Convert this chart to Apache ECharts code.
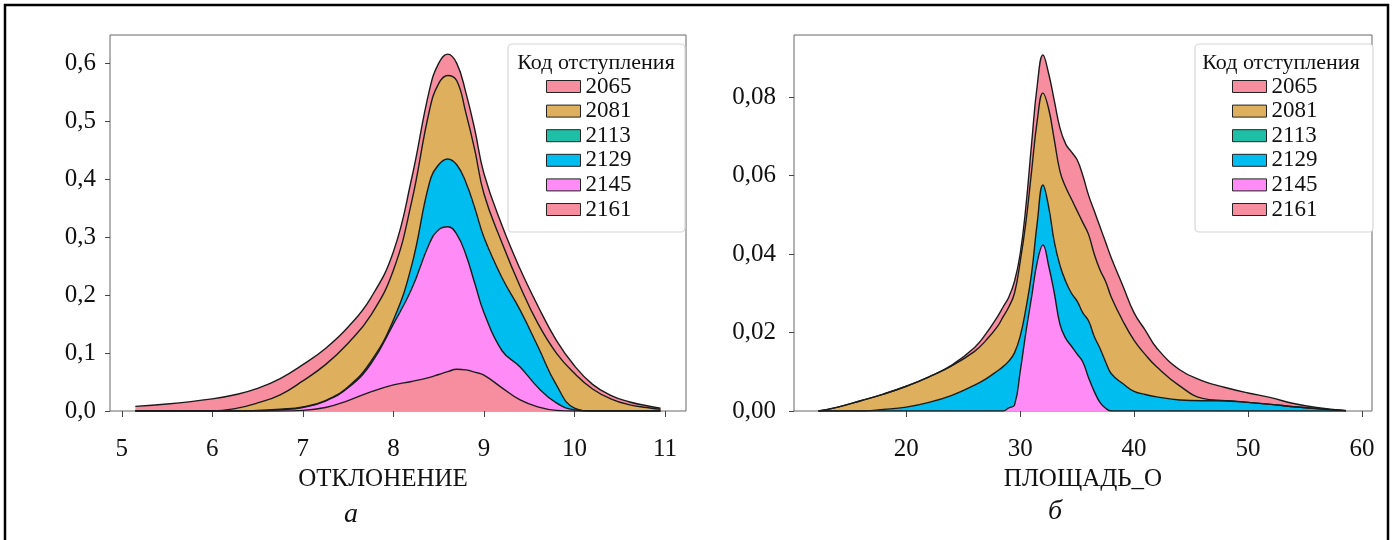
<!DOCTYPE html>
<html lang="ru">
<head>
  <meta charset="UTF-8">
  <title>KDE stack</title>
  <style>
    html, body { margin: 0; padding: 0; background: #fff; }
    #chart { width: 1392px; height: 540px; }
  </style>
</head>
<body>
  <div id="chart"></div>

  <script src="https://cdn.jsdelivr.net/npm/echarts@6/dist/echarts.min.js"></script>
  <script>
    // --- data: panel a (ОТКЛОНЕНИЕ) ---
    var xA = [5.15, 5.5, 6.0, 6.25, 6.5, 6.75, 7.0, 7.25, 7.5, 7.75, 8.0, 8.2, 8.4, 8.5, 8.6, 8.7, 8.8, 8.9, 9.0, 9.2, 9.4, 9.6, 9.8, 10.0, 10.2, 10.4, 10.6, 10.8, 10.95];
    var a2161 = [0, 0, 0, 0, 0, 0, 0.001, 0.006, 0.018, 0.033, 0.045, 0.051, 0.058, 0.063, 0.068, 0.072, 0.071, 0.067, 0.062, 0.040, 0.019, 0.007, 0.001, 0, 0, 0, 0, 0, 0];
    var a2145 = [0, 0, 0, 0, 0, 0.002, 0.005, 0.011, 0.022, 0.048, 0.105, 0.159, 0.232, 0.250, 0.250, 0.233, 0.199, 0.153, 0.108, 0.064, 0.057, 0.033, 0.013, 0.002, 0, 0, 0, 0, 0];
    var a2129 = [0, 0, 0, 0, 0.001, 0.001, 0.001, 0.001, 0.002, 0.004, 0.007, 0.040, 0.105, 0.112, 0.117, 0.120, 0.125, 0.130, 0.130, 0.126, 0.098, 0.070, 0.031, 0.003, 0, 0, 0, 0, 0];
    var a2113 = [0, 0, 0, 0, 0, 0, 0, 0, 0, 0, 0, 0, 0, 0, 0, 0, 0, 0, 0, 0, 0, 0, 0, 0, 0, 0, 0, 0, 0];
    var a2081 = [0, 0, 0, 0.004, 0.013, 0.025, 0.045, 0.062, 0.075, 0.080, 0.086, 0.110, 0.125, 0.140, 0.144, 0.145, 0.120, 0.100, 0.075, 0.060, 0.041, 0.040, 0.055, 0.060, 0.038, 0.021, 0.011, 0.006, 0.003];
    var a2065 = [0.008, 0.012, 0.021, 0.024, 0.025, 0.028, 0.028, 0.028, 0.028, 0.030, 0.032, 0.040, 0.035, 0.035, 0.037, 0.030, 0.035, 0.035, 0.035, 0.030, 0.030, 0.030, 0.022, 0.013, 0.008, 0.006, 0.005, 0.003, 0.002];

    // --- data: panel б (ПЛОЩАДЬ_О) ---
    var xB = [12.3, 14, 16, 18, 20, 22, 24, 26, 27, 28, 28.5, 29, 29.5, 30, 30.5, 31, 31.5, 32, 32.5, 33, 33.5, 34, 34.5, 35, 35.5, 36, 36.5, 37, 37.5, 38, 39, 40, 41, 42, 44, 46, 48, 50, 52, 54, 56, 58.6];
    var b2161 = [0, 0, 0, 0, 0, 0, 0, 0, 0, 0, 0, 0, 0, 0, 0, 0, 0, 0, 0, 0, 0, 0, 0, 0, 0, 0, 0, 0, 0, 0, 0, 0, 0, 0, 0, 0, 0, 0, 0, 0, 0, 0];
    var b2145 = [0, 0, 0, 0, 0, 0, 0, 0, 0, 0, 0, 0.0008, 0.0015, 0.010, 0.020, 0.029, 0.038, 0.0423, 0.037, 0.030, 0.022, 0.0185, 0.0165, 0.0145, 0.0125, 0.0085, 0.005, 0.0022, 0.0007, 0, 0, 0, 0, 0, 0, 0, 0, 0, 0, 0, 0, 0];
    var b2129 = [0, 0, 0, 0.0004, 0.001, 0.0022, 0.004, 0.0066, 0.0082, 0.0102, 0.0113, 0.0119, 0.0133, 0.009, 0.006, 0.006, 0.010, 0.0153, 0.015, 0.013, 0.015, 0.0145, 0.0135, 0.0135, 0.0125, 0.0145, 0.014, 0.0138, 0.0118, 0.0095, 0.007, 0.005, 0.0042, 0.0036, 0.0028, 0.0026, 0.0026, 0.0022, 0.0017, 0.0011, 0.0006, 0.0001];
    var b2113 = [0, 0, 0, 0, 0, 0, 0, 0, 0, 0, 0, 0, 0, 0, 0, 0, 0, 0, 0, 0, 0, 0, 0, 0, 0, 0, 0, 0, 0, 0, 0, 0, 0, 0, 0, 0, 0, 0, 0, 0, 0, 0];
    var b2081 = [0, 0.001, 0.0026, 0.0039, 0.0053, 0.0065, 0.0075, 0.0086, 0.0098, 0.0113, 0.0127, 0.0138, 0.0152, 0.019, 0.022, 0.026, 0.026, 0.0234, 0.025, 0.026, 0.024, 0.024, 0.024, 0.023, 0.023, 0.022, 0.021, 0.020, 0.0205, 0.0195, 0.016, 0.013, 0.0101, 0.0076, 0.0036, 0.0006, 0, 0, 0, 0, 0, 0];
    var b2065 = [0, 0, 0, 0, 0, 0, 0.0002, 0.001, 0.0017, 0.0025, 0.0025, 0.0025, 0.003, 0.002, 0.004, 0.007, 0.009, 0.0097, 0.009, 0.010, 0.011, 0.011, 0.012, 0.013, 0.012, 0.010, 0.011, 0.011, 0.010, 0.010, 0.009, 0.007, 0.0062, 0.0048, 0.0041, 0.0045, 0.0034, 0.0024, 0.0017, 0.0008, 0.0003, 0];

    // legend order and tick labels
    var codes = ['2065', '2081', '2113', '2129', '2145', '2161'];
    var ticksXA = [5, 6, 7, 8, 9, 10, 11];
    var ticksYA = [0, 0.1, 0.2, 0.3, 0.4, 0.5, 0.6];
    var ticksXB = [20, 30, 40, 50, 60];
    var ticksYB = [0, 0.02, 0.04, 0.06, 0.08];

    var colorOf = {
      '2065': '#f68ea0',
      '2081': '#deb05e',
      '2113': '#1dbfa6',
      '2129': '#00bdef',
      '2145': '#ff8cf6',
      '2161': '#f68ea0'
    };

    var serif = 'Liberation Serif';

    // density goes first so that it is the stacked dimension, x is read through encode
    function pairs(xs, ys) {
      return xs.map(function (x, i) { return [ys[i], x]; });
    }

    function makeSeries(name, xs, ys, idx, stack) {
      var empty = ys.every(function (v) { return v === 0; });
      return {
        name: name,
        type: 'line',
        xAxisIndex: idx,
        yAxisIndex: idx,
        stack: stack,
        encode: { x: 1, y: 0 },
        data: pairs(xs, ys),
        smooth: 0.45,
        symbol: 'none',
        lineStyle: { color: '#1b1b1b', width: empty ? 0 : 1.4 },
        areaStyle: { color: colorOf[name], opacity: 1 },
        emphasis: { disabled: true },
        z: 3
      };
    }

    // stacked from the bottom up
    var seriesA = [
      makeSeries('2161', xA, a2161, 0, 'A'),
      makeSeries('2145', xA, a2145, 0, 'A'),
      makeSeries('2129', xA, a2129, 0, 'A'),
      makeSeries('2113', xA, a2113, 0, 'A'),
      makeSeries('2081', xA, a2081, 0, 'A'),
      makeSeries('2065', xA, a2065, 0, 'A')
    ];
    var seriesB = [
      makeSeries('2161', xB, b2161, 1, 'B'),
      makeSeries('2145', xB, b2145, 1, 'B'),
      makeSeries('2129', xB, b2129, 1, 'B'),
      makeSeries('2113', xB, b2113, 1, 'B'),
      makeSeries('2081', xB, b2081, 1, 'B'),
      makeSeries('2065', xB, b2065, 1, 'B')
    ];

    function xAxisOf(idx, min, max, ticks, name, namePad) {
      return {
        type: 'value', gridIndex: idx, min: min, max: max,
        name: name, nameLocation: 'middle', nameGap: 53,
        nameTextStyle: { fontFamily: serif, fontSize: 25, color: '#111', padding: namePad },
        axisLine: { show: false },
        axisTick: { show: true, length: 6, lineStyle: { color: '#444' }, customValues: ticks },
        axisLabel: { fontFamily: serif, fontSize: 25, color: '#111', margin: 26, customValues: ticks },
        splitLine: { show: false }
      };
    }

    function yAxisOf(idx, max, ticks, digits, margin) {
      return {
        type: 'value', gridIndex: idx, min: 0, max: max,
        axisLine: { show: false },
        axisTick: { show: true, length: 5, lineStyle: { color: '#444' }, customValues: ticks },
        axisLabel: {
          fontFamily: serif, fontSize: 25, color: '#111', margin: margin, customValues: ticks,
          formatter: function (v) { return v.toFixed(digits).replace('.', ','); }
        },
        splitLine: { show: false }
      };
    }

    function legendOf(left) {
      return {
        left: left, top: 75, orient: 'vertical', icon: 'rect', z: 20,
        itemWidth: 34, itemHeight: 12, itemGap: 1.6, padding: 0,
        selectedMode: false,
        data: codes.map(function (c) { return { name: c, itemStyle: { color: colorOf[c] } }; }),
        itemStyle: { borderColor: '#222', borderWidth: 1 },
        textStyle: { fontFamily: serif, fontSize: 23, lineHeight: 23, color: '#111' }
      };
    }

    function legendBox(x, w, titleX) {
      return [
        { type: 'rect', z: 5, shape: { x: x, y: 44, width: w, height: 188, r: 4 },
          style: { fill: '#fff', stroke: '#d6d6d6', lineWidth: 1.2 } },
        { type: 'text', z: 6, x: titleX, y: 63,
          style: { text: 'Код отступления', font: '22px "Liberation Serif"', fill: '#111',
                   textAlign: 'center', textVerticalAlign: 'middle' } }
      ];
    }

    var chart = echarts.init(document.getElementById('chart'));
    chart.setOption({
      animation: false,
      backgroundColor: '#fff',
      grid: [
        { left: 110, top: 35, width: 576, height: 376, show: true, borderColor: '#666', borderWidth: 1, backgroundColor: 'transparent' },
        { left: 794, top: 35, width: 578, height: 376, show: true, borderColor: '#666', borderWidth: 1, backgroundColor: 'transparent' }
      ],
      xAxis: [
        xAxisOf(0, 4.87, 11.232, ticksXA, 'ОТКЛОНЕНИЕ', [0, 30, 0, 0]),
        xAxisOf(1, 10.15, 60.88, ticksXB, 'ПЛОЩАДЬ_О', [0, 0, 0, 0])
      ],
      yAxis: [
        yAxisOf(0, 0.649, ticksYA, 1, 14),
        yAxisOf(1, 0.0958, ticksYB, 2, 18)
      ],
      legend: [legendOf(546), legendOf(1232)],
      graphic: [
        { type: 'rect', z: 10, shape: { x: 5, y: 5, width: 1383, height: 545 },
          style: { fill: 'none', stroke: '#000', lineWidth: 2.5 } },
        { type: 'text', x: 351, y: 515,
          style: { text: 'а', font: 'italic 28px "Liberation Serif"', fill: '#111', textAlign: 'center', textVerticalAlign: 'middle' } },
        { type: 'text', x: 1055, y: 512,
          style: { text: 'б', font: 'italic 28px "Liberation Serif"', fill: '#111', textAlign: 'center', textVerticalAlign: 'middle' } }
      ].concat(legendBox(508, 177, 596), legendBox(1195, 178, 1281)),
      series: seriesA.concat(seriesB)
    });
  </script>
</body>
</html>
